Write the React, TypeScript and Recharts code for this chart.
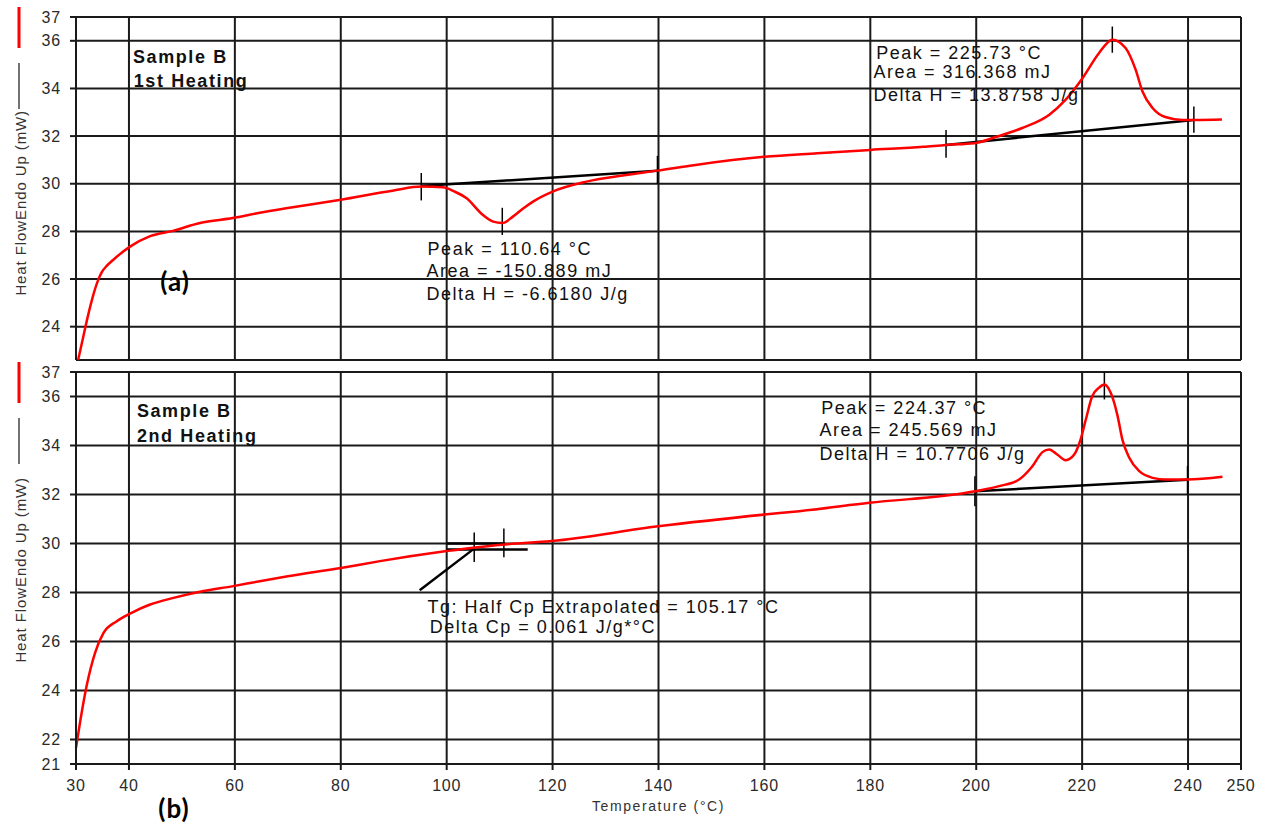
import { LineChart, Line, XAxis, YAxis, CartesianGrid, ReferenceLine, ReferenceDot, Label } from 'recharts'

const X_TICKS = [30, 40, 60, 80, 100, 120, 140, 160, 180, 200, 220, 240, 250]
const TOP_Y_TICKS = [24, 26, 28, 30, 32, 34, 36, 37]
const BOTTOM_Y_TICKS = [21, 22, 24, 26, 28, 30, 32, 34, 36, 37]

// 1st heating trace: temperature (°C) / heat flow (mW)
const HEAT1_T = [
  30.4, 31.3, 32.2, 33.1, 34.0, 34.9, 35.8, 37.0, 40.2, 44, 48.3, 53.4, 59.6, 64.7, 70, 80, 90, 95.2,
  99.3, 101.5, 103.7, 106.8, 108.8, 110.5, 112.5, 114.5, 116.3, 120, 126.4, 133.9, 139.8, 147, 160, 170,
  180, 190, 194.3, 199.6, 203.7, 208.7, 213.8, 216.9, 220.1, 223.2, 225.7, 228.2, 230.1, 231.4, 233.3,
  235.7, 238.9, 241.4, 246.4,
]
const HEAT1_HF = [
  22.6, 23.5, 24.4, 25.2, 25.85, 26.3, 26.55, 26.8, 27.36, 27.8, 28.02, 28.35, 28.56, 28.78, 28.98, 29.33, 29.72, 29.88,
  29.85, 29.67, 29.4, 28.7, 28.41, 28.35, 28.62, 28.97, 29.25, 29.67, 30.09, 30.37, 30.55, 30.79, 31.13, 31.28,
  31.42, 31.55, 31.63, 31.7, 31.96, 32.34, 32.9, 33.53, 34.44, 35.49, 36.05, 35.7, 34.79, 33.87, 33.18,
  32.8, 32.68, 32.68, 32.7,
]

// 2nd heating trace
const HEAT2_T = [
  30, 30.75, 32.0, 33.6, 35.2, 37.7, 40.2, 44, 48.4, 53.4, 59.7, 64.7, 70, 80, 87.4, 100, 105, 111, 119.8,
  139.9, 160, 166.6, 179.8, 199.75, 204.3, 208.1, 210.6, 212.5, 213.8, 215.3, 216.9, 218.5, 219.7, 220.7,
  221.9, 223.2, 224.2, 225.4, 226.7, 227.6, 228.9, 230.8, 233.3, 235.8, 239.9, 246.5,
]
const HEAT2_HF = [
  21.66, 22.68, 24.18, 25.54, 26.35, 26.83, 27.14, 27.51, 27.78, 28.03, 28.26, 28.46, 28.66, 29.0, 29.28, 29.69, 29.83, 29.96, 30.1,
  30.7, 31.18, 31.32, 31.66, 32.13, 32.34, 32.61, 33.15, 33.73, 33.84, 33.63, 33.4, 33.63, 34.24, 35.06,
  36.01, 36.36, 36.49, 36.15, 35.2, 34.24, 33.5, 32.95, 32.68, 32.61, 32.61, 32.72,
]

// construction lines from the analysis software: [t1, hf1, t2, hf2]
const HEAT1_BASELINES = [
  [95.2, 29.9, 139.8, 30.55],
  [194.3, 31.63, 241.1, 32.68],
]
// limit / peak marks: [t, hfLow, hfHigh]
const HEAT1_MARKS = [
  [95.2, 29.3, 30.45],
  [139.8, 29.99, 31.17],
  [110.5, 27.85, 28.99],
  [194.3, 31.09, 32.26],
  [225.7, 35.5, 36.6],
  [241.1, 32.14, 33.24],
]
const HEAT2_BASELINES = [
  [199.75, 32.13, 239.9, 32.6],
  [100, 30.0, 111, 30.0],
  [100, 29.76, 115.3, 29.76],
  [94.9, 28.09, 105, 29.76],
]
const HEAT2_MARKS = [
  [199.75, 31.52, 32.75],
  [224.2, 35.88, 36.98],
  [239.9, 32.0, 33.16],
  [105.2, 29.24, 30.45],
  [110.8, 29.44, 30.61],
]

type Note = { t: number; hf: number; text: string; kind: 'title' | 'note' | 'tag' }

const HEAT1_NOTES: Note[] = [
  { t: 40.75, hf: 35.08, text: 'Sample B', kind: 'title' },
  { t: 40.9, hf: 34.07, text: '1st Heating', kind: 'title' },
  { t: 96.4, hf: 27.01, text: 'Peak = 110.64 °C', kind: 'note' },
  { t: 96.2, hf: 26.08, text: 'Area = -150.889 mJ', kind: 'note' },
  { t: 96.2, hf: 25.12, text: 'Delta H = -6.6180 J/g', kind: 'note' },
  { t: 181.1, hf: 35.22, text: 'Peak = 225.73 °C', kind: 'note' },
  { t: 180.6, hf: 34.42, text: 'Area = 316.368 mJ', kind: 'note' },
  { t: 180.6, hf: 33.48, text: 'Delta H = 13.8758 J/g', kind: 'note' },
  { t: 48.7, hf: 25.48, text: '(a)', kind: 'tag' },
]
const HEAT2_NOTES: Note[] = [
  { t: 41.5, hf: 35.18, text: 'Sample B', kind: 'title' },
  { t: 41.5, hf: 34.16, text: '2nd Heating', kind: 'title' },
  { t: 170.75, hf: 35.27, text: 'Peak = 224.37 °C', kind: 'note' },
  { t: 170.4, hf: 34.37, text: 'Area = 245.569 mJ', kind: 'note' },
  { t: 170.4, hf: 33.39, text: 'Delta H = 10.7706 J/g', kind: 'note' },
  { t: 96.4, hf: 27.18, text: 'Tg: Half Cp Extrapolated = 105.17 °C', kind: 'note' },
  { t: 96.8, hf: 26.33, text: 'Delta Cp = 0.061 J/g*°C', kind: 'note' },
  { t: 48.5, hf: 18.78, text: '(b)', kind: 'tag' },
]

const FONT = '"Liberation Sans", Arial, sans-serif'
const GRID = '#1a1a1a'

const NOTE_STYLE = {
  title: { fontFamily: FONT, fontWeight: 700, fontSize: 18, letterSpacing: 1.6, fill: '#111' },
  note: { fontFamily: FONT, fontSize: 18, letterSpacing: 1.5, fill: '#111' },
  tag: { fontFamily: 'Lato, "Open Sans", sans-serif', fontWeight: 700, fontSize: 26, letterSpacing: 1, fill: '#000' },
}

const toRows = (t: number[], hf: number[]) => t.map((x, i) => ({ t: x, hf: hf[i] }))

const noteContent = (n: Note) => (props: any) => {
  const { x, y } = props.viewBox
  return (
    <text x={x} y={y} textAnchor={n.kind === 'tag' ? 'middle' : 'start'} style={NOTE_STYLE[n.kind]}>
      {n.text}
    </text>
  )
}

const yLabel = (textEnd: number) => (props: any) => {
  const { x, y } = props.viewBox
  const lx = x + 19
  const tx = x + 26
  return (
    <g>
      <line x1={lx} x2={lx} y1={y - 10} y2={y + 31} stroke="#ff0000" strokeWidth={3} />
      <line x1={lx} x2={lx} y1={y + 46} y2={y + 92} stroke="#444" strokeWidth={1.5} />
      <text
        x={tx}
        y={y + textEnd}
        transform={`rotate(-90, ${tx}, ${y + textEnd})`}
        textAnchor="end"
        style={{ fontFamily: FONT, fontSize: 15, letterSpacing: 0.9, fill: '#333' }}
      >
        Heat FlowEndo Up (mW)
      </text>
    </g>
  )
}

const xLabel = (props: any) => {
  const { x, y, width } = props.viewBox
  return (
    <text
      x={x + width / 2}
      y={y + 47}
      textAnchor="middle"
      style={{ fontFamily: FONT, fontSize: 14, letterSpacing: 1.6, fill: '#333' }}
    >
      Temperature (°C)
    </text>
  )
}

const tickStyle = { fontFamily: FONT, fontSize: 16, letterSpacing: 0.8, fill: '#2a2a2a' }
const noTick = () => <g />

interface PanelProps {
  rows: { t: number; hf: number }[]
  height: number
  marginTop: number
  yDomain: [number, number]
  yTicks: number[]
  baselines: number[][]
  marks: number[][]
  notes: Note[]
  labelEnd: number
  showX: boolean
}

function Panel({ rows, height, marginTop, yDomain, yTicks, baselines, marks, notes, labelEnd, showX }: PanelProps) {
  return (
    <LineChart width={1265} height={height} data={rows} margin={{ top: marginTop, right: 24, left: 0, bottom: 0 }}>
      <CartesianGrid stroke={GRID} strokeWidth={2} />
      {showX ? (
        <XAxis
          type="number"
          dataKey="t"
          domain={[30, 250]}
          ticks={X_TICKS}
          interval={0}
          height={61}
          tickSize={6}
          tickMargin={10}
          tick={tickStyle}
          stroke={GRID}
          strokeWidth={2}
          label={{ content: xLabel }}
        />
      ) : (
        <XAxis
          type="number"
          dataKey="t"
          domain={[30, 250]}
          ticks={X_TICKS}
          interval={0}
          height={1}
          tick={noTick}
          tickLine={false}
          axisLine={false}
        />
      )}
      <YAxis
        type="number"
        domain={yDomain}
        ticks={yTicks}
        interval={0}
        allowDataOverflow
        width={76}
        tickSize={6}
        tickMargin={9}
        tick={tickStyle}
        stroke={GRID}
        strokeWidth={2}
        label={{ content: yLabel(labelEnd) }}
      />
      {baselines.map((b, i) => (
        <ReferenceLine
          key={`b${i}`}
          segment={[{ x: b[0], y: b[1] }, { x: b[2], y: b[3] }]}
          stroke="#000"
          strokeWidth={2.5}
          ifOverflow="visible"
        />
      ))}
      {marks.map((m, i) => (
        <ReferenceLine
          key={`m${i}`}
          segment={[{ x: m[0], y: m[1] }, { x: m[0], y: m[2] }]}
          stroke="#000"
          strokeWidth={1.5}
          ifOverflow="visible"
        />
      ))}
      <Line
        type="monotone"
        dataKey="hf"
        stroke="#ff0000"
        strokeWidth={2.5}
        dot={false}
        activeDot={false}
        isAnimationActive={false}
      />
      {notes.map((n, i) => (
        <ReferenceDot key={`n${i}`} x={n.t} y={n.hf} r={0} fill="none" stroke="none" ifOverflow="visible">
          <Label content={noteContent(n)} />
        </ReferenceDot>
      ))}
    </LineChart>
  )
}

export default function App() {
  return (
    <div style={{ position: 'absolute', left: 0, top: 0, width: 1265, height: 825, background: '#fff', overflow: 'hidden' }}>
      <div style={{ position: 'absolute', left: 0, top: 0 }}>
        <Panel
          rows={toRows(HEAT1_T, HEAT1_HF)}
          height={361}
          marginTop={17}
          yDomain={[22.6, 37]}
          yTicks={TOP_Y_TICKS}
          baselines={HEAT1_BASELINES}
          marks={HEAT1_MARKS}
          notes={HEAT1_NOTES}
          labelEnd={93}
          showX={false}
        />
      </div>
      <div style={{ position: 'absolute', left: 0, top: 360 }}>
        <Panel
          rows={toRows(HEAT2_T, HEAT2_HF)}
          height={465}
          marginTop={12}
          yDomain={[21, 37]}
          yTicks={BOTTOM_Y_TICKS}
          baselines={HEAT2_BASELINES}
          marks={HEAT2_MARKS}
          notes={HEAT2_NOTES}
          labelEnd={105}
          showX
        />
      </div>
    </div>
  )
}
